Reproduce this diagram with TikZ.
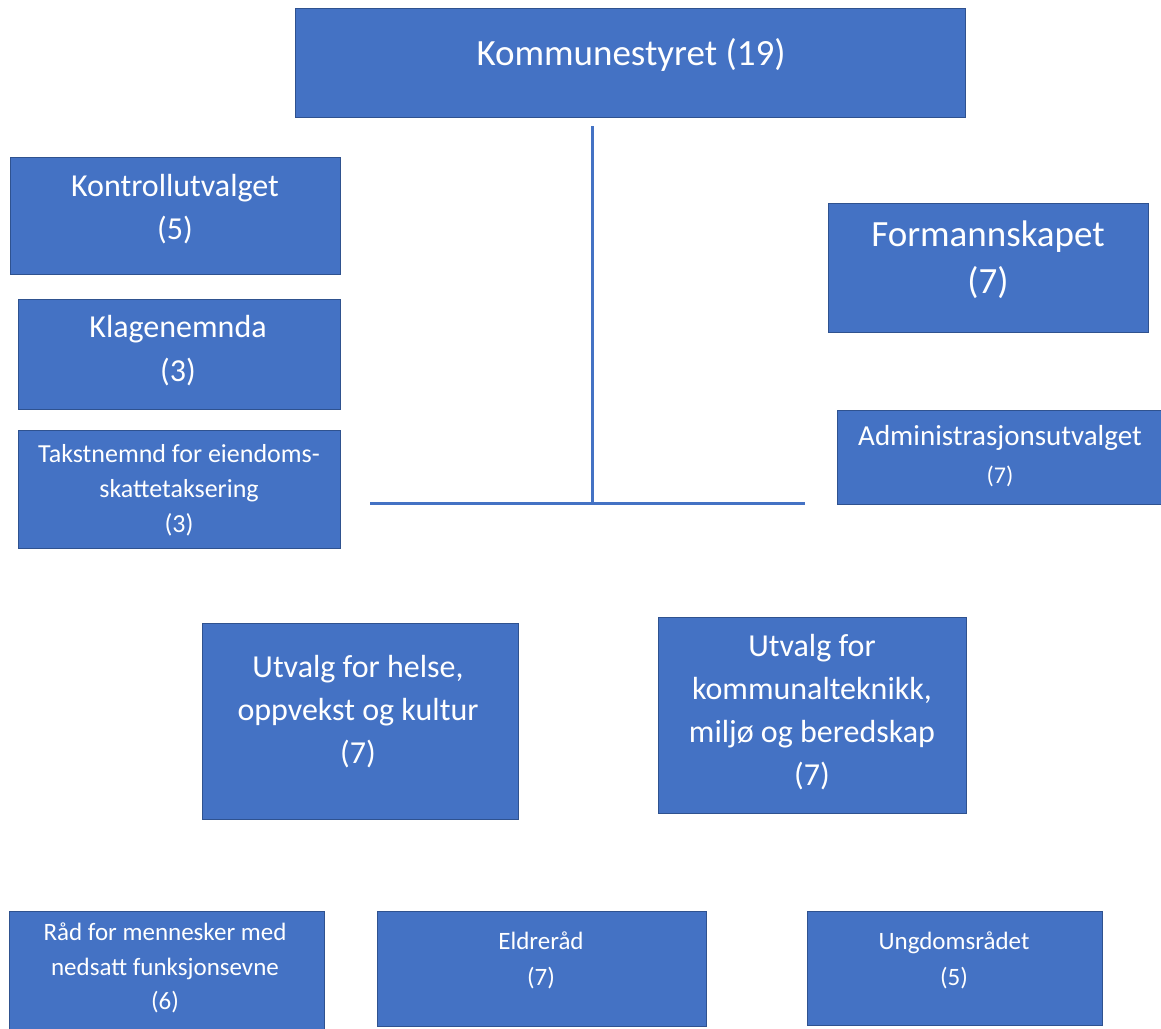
\documentclass[tikz,border=0pt]{standalone}
\usepackage{fontspec}
\setmainfont{Carlito}
\definecolor{boxfill}{HTML}{4472C4}
\definecolor{boxline}{HTML}{2F528F}
\definecolor{conn}{HTML}{4472C4}
\tikzset{
  boxst/.style={rectangle, draw=boxline, fill=boxfill, line width=1pt, inner sep=0pt},
  txt/.style={text=white, align=center, inner sep=0pt},
  connst/.style={draw=conn, line width=3pt}
}
\begin{document}
\begin{tikzpicture}[x=1pt,y=-1pt]
\useasboundingbox (0,0) rectangle (1161,1028);
\fill[white] (0,0) rectangle (1161,1028);
\begin{scope}
\clip (0,0) rectangle (1161,1028);
% boxes
\node[boxst, minimum width=670pt, minimum height=109pt] (ks) at (630,62.5) {};
\node[boxst, minimum width=330pt, minimum height=117pt] (ko) at (175,215.5) {};
\node[boxst, minimum width=322pt, minimum height=110pt] (kl) at (179,354) {};
\node[boxst, minimum width=322pt, minimum height=118pt] (ta) at (179,489) {};
\node[boxst, minimum width=320pt, minimum height=129pt] (fo) at (988,267.5) {};
\node[boxst, minimum width=328pt, minimum height=94pt] (ad) at (1001,457) {};
\node[boxst, minimum width=316pt, minimum height=196pt] (he) at (360,721) {};
\node[boxst, minimum width=308pt, minimum height=196pt] (km) at (812,715) {};
\node[boxst, minimum width=315pt, minimum height=129pt] (ra) at (166.5,975.5) {};
\node[boxst, minimum width=329pt, minimum height=115pt] (el) at (541.5,968.5) {};
\node[boxst, minimum width=295pt, minimum height=114pt] (un) at (954.5,968) {};
% texts
\node[txt, font=\fontsize{37}{48}\selectfont] (ksT) at (631,55) {Kommunestyret (19)};
\node[txt, font=\fontsize{32}{43}\selectfont] (koT) at (175,209) {Kontrollutvalget\\(5)};
\node[txt, font=\fontsize{32}{44}\selectfont] (klT) at (178,351) {Klagenemnda\\(3)};
\node[txt, font=\fontsize{26}{35}\selectfont] (taT) at (179,490) {Takstnemnd for eiendoms-\\skattetaksering\\(3)};
\node[txt, font=\fontsize{37}{47}\selectfont] (foT) at (988,260) {Formannskapet\\(7)};
\node[txt, font=\fontsize{29}{38}\selectfont] (adT) at (1000,456) {Administrasjonsutvalget\\\fontsize{24}{38}\selectfont (7)};
\node[txt, font=\fontsize{32}{43}\selectfont] (heT) at (358,712) {Utvalg for helse,\\oppvekst og kultur\\(7)};
\node[txt, font=\fontsize{32}{43}\selectfont] (kmT) at (812,712) {Utvalg for\\kommunalteknikk,\\miljø og beredskap\\(7)};
\node[txt, font=\fontsize{25}{34.5}\selectfont] (raT) at (165,968) {Råd for mennesker med\\nedsatt funksjonsevne\\(6)};
\node[txt, font=\fontsize{25}{36}\selectfont] (elT) at (541,960) {Eldreråd\\(7)};
\node[txt, font=\fontsize{25}{36}\selectfont] (unT) at (954,960) {Ungdomsrådet\\(5)};
\end{scope}
% connectors
\coordinate (vtop) at (592,126);
\coordinate (junc) at (592,503);
\coordinate (hl) at (370,503);
\coordinate (hr) at (805,503);
\draw[connst] (vtop) -- (junc);
\draw[connst] (hl) -- (hr);
\end{tikzpicture}
\end{document}
